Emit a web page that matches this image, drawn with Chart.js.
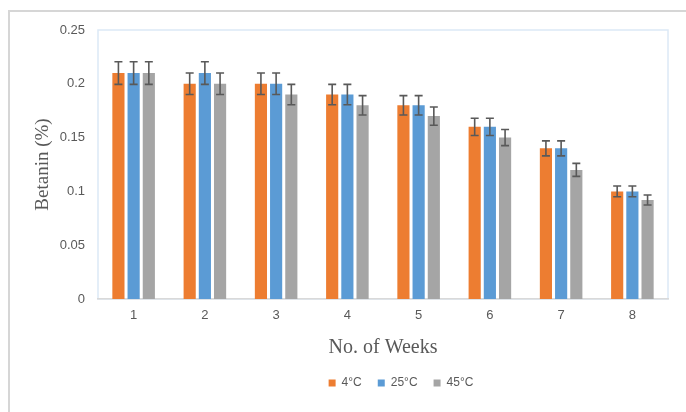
<!DOCTYPE html>
<html>
<head>
<meta charset="utf-8">
<script src="https://cdn.jsdelivr.net/npm/chart.js@4.4.0/dist/chart.umd.min.js"></script>
<style>
  body { margin: 0; background: #fff; }
  #wrap { width: 686px; height: 412px; }
</style>
</head>
<body>
<div id="wrap"><canvas id="chartBetanin" width="686" height="412"></canvas></div>
<script>
// data
const weeks = ["1", "2", "3", "4", "5", "6", "7", "8"];
const suhu4 = [0.21, 0.20, 0.20, 0.19, 0.18, 0.16, 0.14, 0.10];
const suhu25 = [0.21, 0.21, 0.20, 0.19, 0.18, 0.16, 0.14, 0.10];
const suhu45 = [0.21, 0.20, 0.19, 0.18, 0.17, 0.15, 0.12, 0.092];
const err4 = [0.0105, 0.010, 0.010, 0.0095, 0.009, 0.008, 0.007, 0.005];
const err25 = [0.0105, 0.0105, 0.010, 0.0095, 0.009, 0.008, 0.007, 0.005];
const err45 = [0.0105, 0.010, 0.0095, 0.009, 0.0085, 0.0075, 0.006, 0.0046];

const abu = "#595959";

// bingkai luar + bingkai area plot
const bingkai = {
  id: "bingkai",
  beforeDraw(chart) {
    const c = chart.ctx;
    c.save();
    c.strokeStyle = "#d6d6d6";
    c.lineWidth = 2;
    c.strokeRect(9, 11, 720, 440);
    const a = chart.chartArea;
    c.strokeStyle = "#dce9f6";
    c.lineWidth = 1.5;
    c.strokeRect(a.left, a.top, a.right - a.left, a.bottom - a.top);
    c.restore();
  },
  afterLayout(chart) {
    chart.legend.left += 67;
    chart.legend.right += 67;
  }
};

// error bar
const errorBar = {
  id: "errorBar",
  afterDatasetsDraw(chart) {
    const c = chart.ctx;
    const y = chart.scales.y;
    c.save();
    c.strokeStyle = abu;
    c.lineWidth = 1.6;
    chart.data.datasets.forEach((ds, i) => {
      const meta = chart.getDatasetMeta(i);
      meta.data.forEach((bar, j) => {
        const v = ds.data[j], e = ds.errors[j];
        const t = y.getPixelForValue(v + e), b = y.getPixelForValue(v - e);
        c.beginPath();
        c.moveTo(bar.x, t); c.lineTo(bar.x, b);
        c.moveTo(bar.x - 4, t); c.lineTo(bar.x + 4, t);
        c.moveTo(bar.x - 4, b); c.lineTo(bar.x + 4, b);
        c.stroke();
      });
    });
    c.restore();
  }
};

let ctx = document.getElementById("chartBetanin").getContext("2d");
let chart = new Chart(ctx, {
  type: "bar",
  data: {
    labels: weeks,
    datasets: [
      { label: "4°C", data: suhu4, errors: err4, backgroundColor: "#ED7D31" },
      { label: "25°C", data: suhu25, errors: err25, backgroundColor: "#5B9BD5" },
      { label: "45°C", data: suhu45, errors: err45, backgroundColor: "#A5A5A5" }
    ]
  },
  options: {
    responsive: false,
    animation: false,
    layout: { padding: { left: 0, top: 30, right: 18, bottom: 13 } },
    datasets: { bar: { categoryPercentage: 0.64, barPercentage: 0.8 } },
    plugins: {
      tooltip: { enabled: false },
      legend: {
        position: "bottom",
        labels: {
          boxWidth: 7, boxHeight: 7, padding: 16,
          color: abu,
          font: { family: "'Liberation Sans', Arial", size: 12 }
        }
      }
    },
    scales: {
      x: {
        afterFit(s) { s.height = 62; },
        grid: { display: false },
        border: { color: "#d9d9d9", width: 1.5 },
        ticks: { color: abu, padding: 1, font: { family: "'Liberation Sans', Arial", size: 13 } },
        title: {
          display: true, text: "No. of Weeks", color: abu,
          padding: { top: 0, bottom: 2 },
          font: { family: "'Liberation Serif', 'Times New Roman', serif", size: 20, lineHeight: 1.15 }
        }
      },
      y: {
        min: 0, max: 0.25,
        afterFit(s) { s.width = 98; },
        grid: { display: false, drawTicks: false },
        border: { display: false },
        ticks: {
          stepSize: 0.05, color: abu, padding: 13,
          font: { family: "'Liberation Sans', Arial", size: 13 },
          callback: v => String(Number(v.toFixed(2)))
        },
        title: {
          display: true, text: "Betanin (%)", color: abu,
          padding: { top: 32, bottom: 0 },
          font: { family: "'Liberation Serif', 'Times New Roman', serif", size: 19, lineHeight: 1.15 }
        }
      }
    }
  },
  plugins: [bingkai, errorBar]
});
</script>
</body>
</html>
